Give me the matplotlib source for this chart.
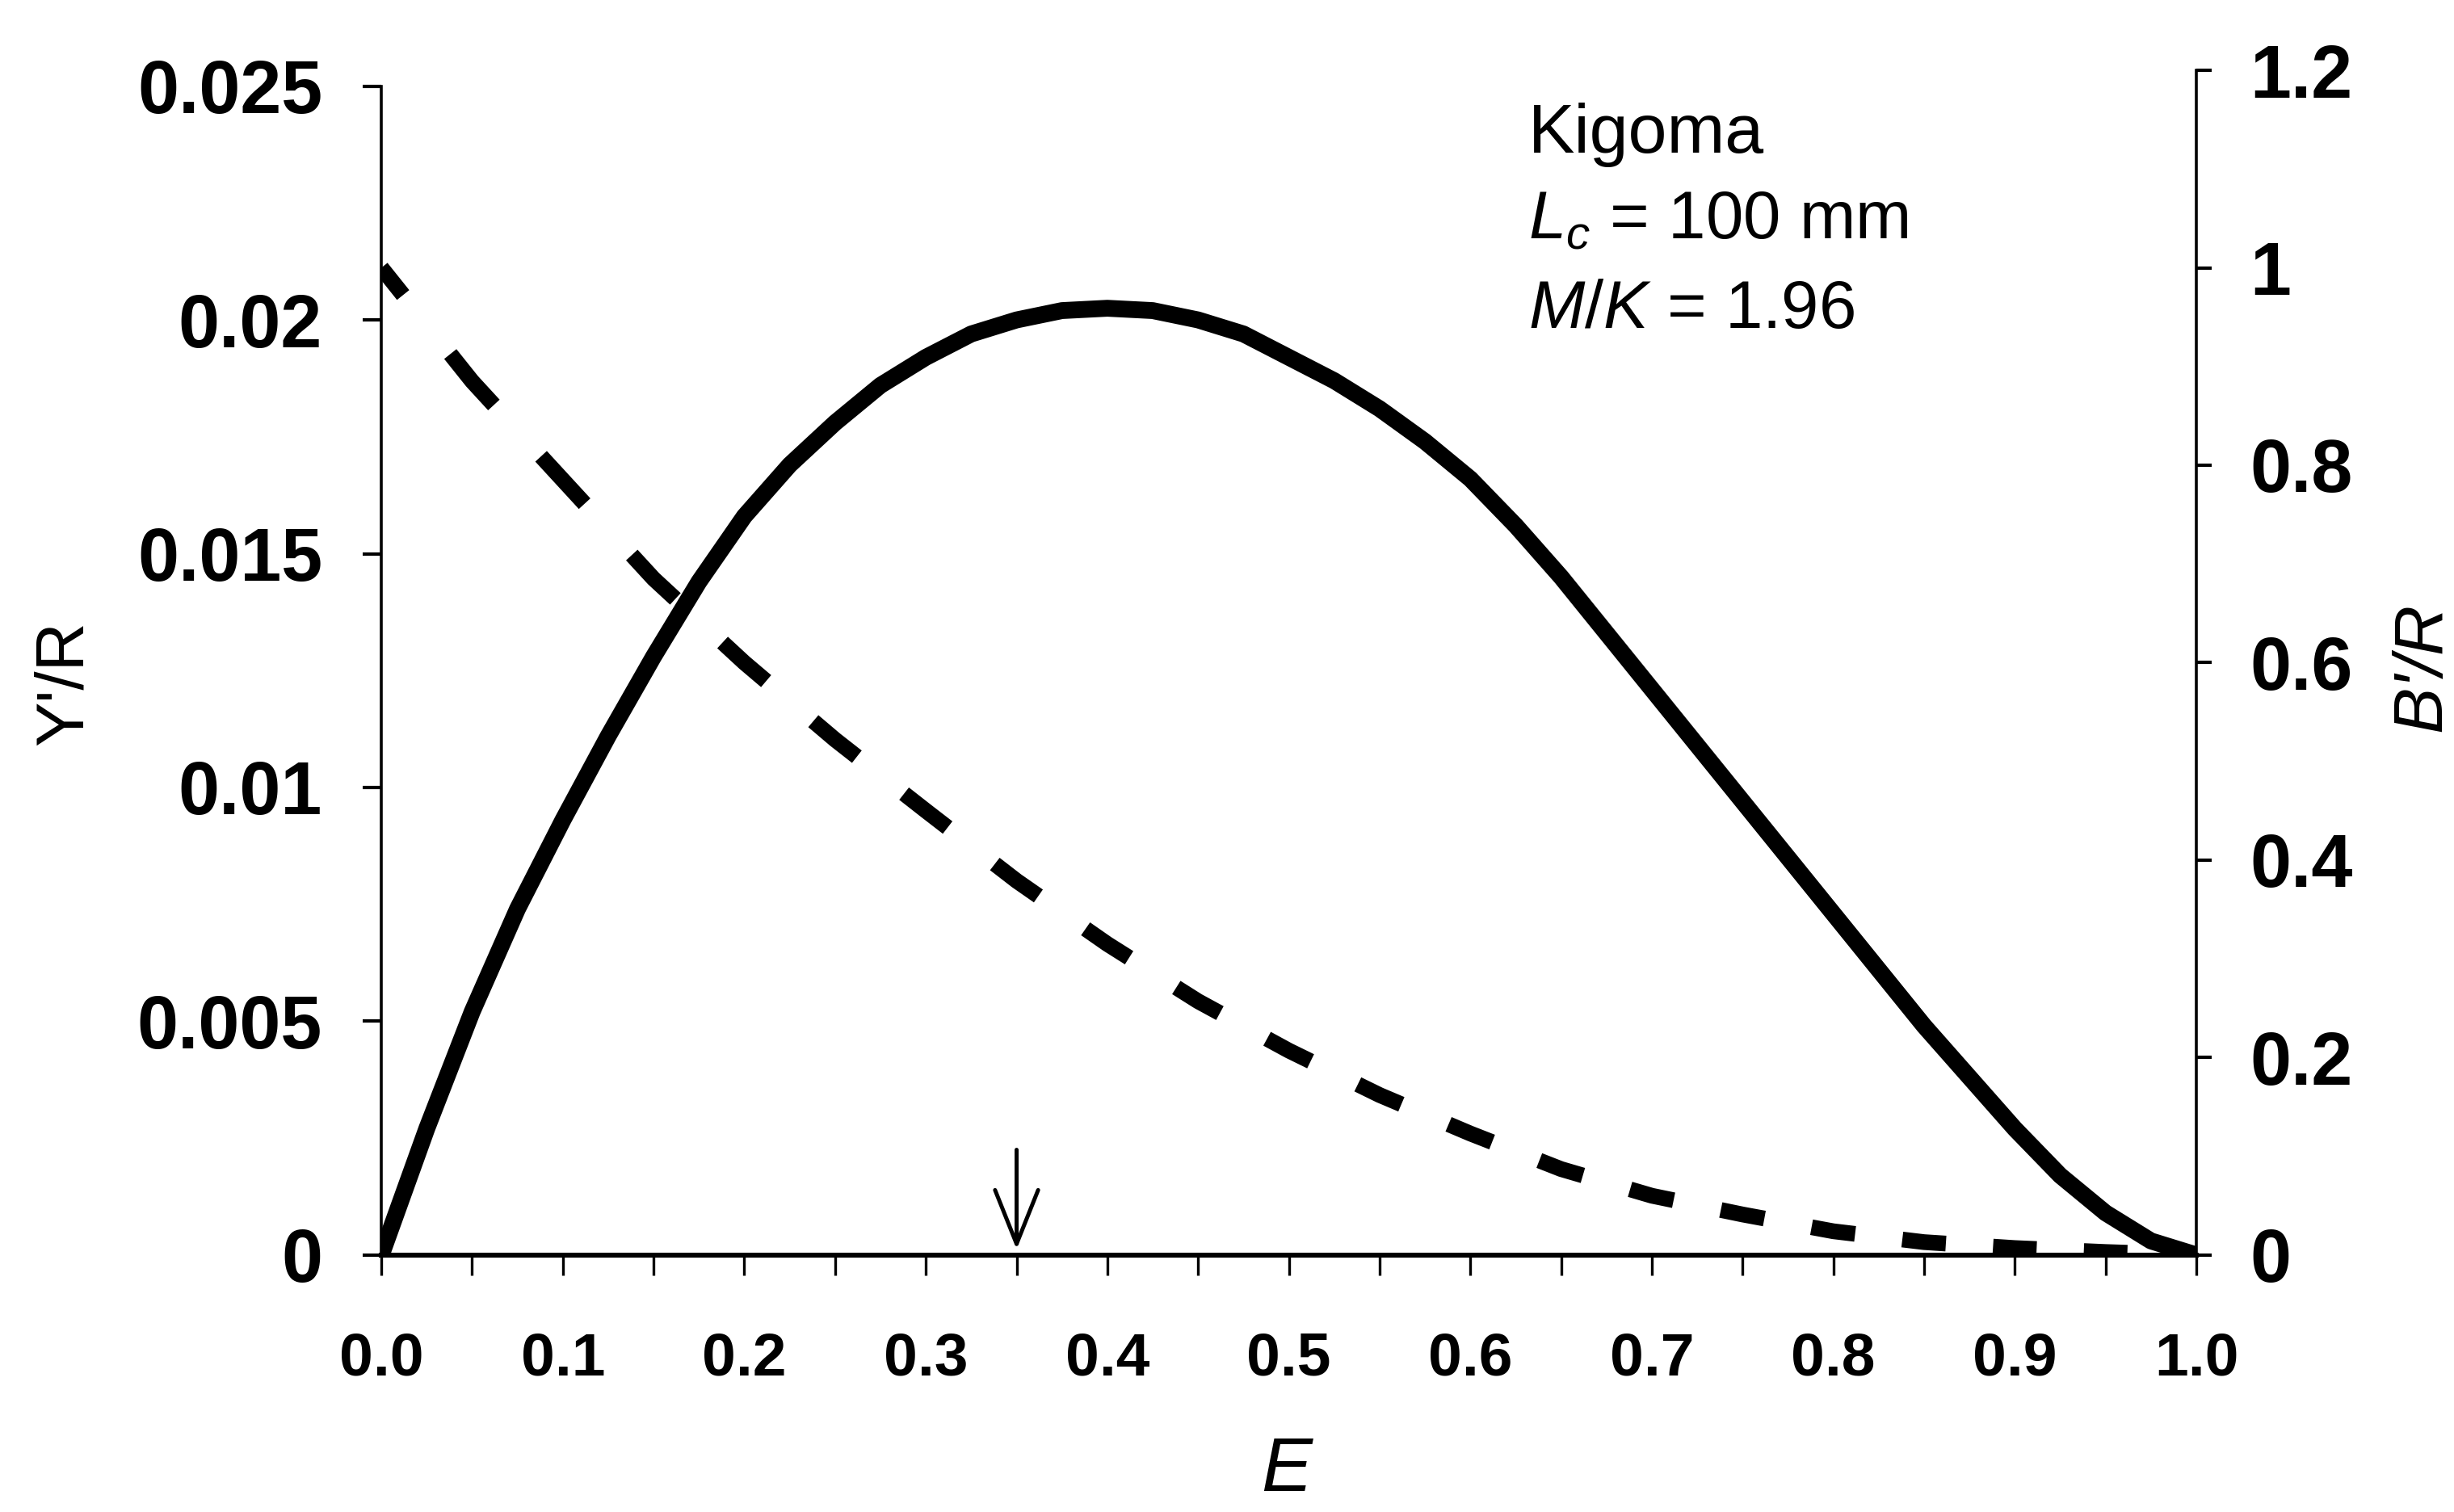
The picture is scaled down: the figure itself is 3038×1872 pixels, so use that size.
import numpy as np
import matplotlib
matplotlib.use('Agg')
import matplotlib.pyplot as plt
from matplotlib.ticker import MultipleLocator, FixedLocator

# Fonts: Arial-like family and matching mathtext
plt.rcParams['font.family'] = 'Liberation Sans'
plt.rcParams['mathtext.fontset'] = 'custom'
plt.rcParams['mathtext.rm'] = 'Liberation Sans'
plt.rcParams['mathtext.it'] = 'Liberation Sans:italic'
plt.rcParams['mathtext.bf'] = 'Liberation Sans:bold'

# Relative yield per recruit Y'/R against exploitation rate E (left axis, solid line)
E_yield = [0.0, 0.025, 0.05, 0.075, 0.1, 0.125, 0.15, 0.175, 0.2, 0.225,
           0.25, 0.275, 0.3, 0.325, 0.35, 0.375, 0.4, 0.425, 0.45, 0.475,
           0.5, 0.525, 0.55, 0.575, 0.6, 0.625, 0.65, 0.675, 0.7, 0.725,
           0.75, 0.775, 0.8, 0.825, 0.85, 0.875, 0.9, 0.925, 0.95, 0.975, 1.0]
yield_per_recruit = [0.0, 0.0027, 0.0052, 0.0074, 0.0093, 0.0111, 0.0128, 0.0144,
                     0.0158, 0.0169, 0.0178, 0.0186, 0.0192, 0.0197, 0.0200,
                     0.0202, 0.02025, 0.0202, 0.0200, 0.0197, 0.0192, 0.0187,
                     0.0181, 0.0174, 0.0166, 0.0156, 0.0145, 0.0133, 0.0121,
                     0.0109, 0.0097, 0.0085, 0.0073, 0.0061, 0.0049, 0.0038,
                     0.0027, 0.0017, 0.0009, 0.0003, 0.0]

# Relative biomass per recruit B'/R (right axis, dashed line)
E_biomass = [0.0, 0.05, 0.1, 0.15, 0.2, 0.25, 0.3, 0.35, 0.4, 0.45, 0.5,
             0.55, 0.6, 0.65, 0.7, 0.75, 0.8, 0.85, 0.9, 0.95, 1.0]
biomass_per_recruit = [1.0, 0.885, 0.785, 0.685, 0.600, 0.522, 0.450, 0.379,
                       0.315, 0.257, 0.207, 0.162, 0.123, 0.087, 0.060, 0.041,
                       0.024, 0.013, 0.007, 0.003, 0.0]

left_ticks = [0, 0.005, 0.01, 0.015, 0.02, 0.025]
left_labels = ['0', '0.005', '0.01', '0.015', '0.02', '0.025']
right_ticks = [0, 0.2, 0.4, 0.6, 0.8, 1.0, 1.2]
right_labels = ['0', '0.2', '0.4', '0.6', '0.8', '1', '1.2']
x_ticks = [0.0, 0.1, 0.2, 0.3, 0.4, 0.5, 0.6, 0.7, 0.8, 0.9, 1.0]
x_labels = ['%.1f' % v for v in x_ticks]

# Optimum exploitation marked with an arrow
E_arrow = 0.35


def short_dashes(x, y, frac):
    # one short dash centred on every data point, reaching a fraction
    # of the way toward the neighbouring points
    xs, ys = [], []
    n = len(x)
    for i in range(n):
        if i > 0:
            xa = x[i] - frac * (x[i] - x[i - 1])
            ya = y[i] - frac * (y[i] - y[i - 1])
        else:
            xa, ya = x[i], y[i]
        if i < n - 1:
            xb = x[i] + frac * (x[i + 1] - x[i])
            yb = y[i] + frac * (y[i + 1] - y[i])
        else:
            xb, yb = x[i], y[i]
        xs += [xa, x[i], xb, np.nan]
        ys += [ya, y[i], yb, np.nan]
    return xs, ys


fig = plt.figure(figsize=(15.19, 9.36), dpi=200)

left, bottom, width = 0.1554, 0.170, 0.7396
ax = fig.add_axes([left, bottom, width, 0.943 - bottom])
ax2 = fig.add_axes([left, bottom, width, 0.9535 - bottom], sharex=ax)
ax2.patch.set_visible(False)

# Solid line: Y'/R
ax.plot(E_yield, yield_per_recruit, color='black', lw=7.5, solid_capstyle='butt',
        solid_joinstyle='round', zorder=3)

# Dashed line: B'/R
dx, dy = short_dashes(E_biomass, biomass_per_recruit, 0.24)
ax2.plot(dx, dy, color='black', lw=7, solid_capstyle='butt', zorder=3)

# Arrow at E = 0.35
ax.annotate('', xy=(E_arrow, 0.00012), xytext=(E_arrow, 0.00225),
            arrowprops=dict(arrowstyle='->,head_length=0.8,head_width=0.32',
                            lw=1.8, color='black', mutation_scale=30,
                            shrinkA=0, shrinkB=0))

# Axis limits
ax.set_xlim(0, 1.0)
ax.set_ylim(0, 0.025)
ax2.set_ylim(0, 1.2)

# Spines
for s in ['top', 'right']:
    ax.spines[s].set_visible(False)
for s in ['top', 'left', 'bottom']:
    ax2.spines[s].set_visible(False)
ax.spines['left'].set_linewidth(1.3)
ax.spines['bottom'].set_linewidth(2.2)
ax2.spines['right'].set_linewidth(1.3)

# Ticks
ax.xaxis.set_major_locator(FixedLocator(x_ticks))
ax.xaxis.set_minor_locator(MultipleLocator(0.05))
ax.set_xticklabels(x_labels, fontsize=27, fontweight='bold')
ax.tick_params(axis='x', which='both', direction='out', length=9, width=1.2, pad=25)

ax.set_yticks(left_ticks)
ax.set_yticklabels(left_labels, fontsize=33, fontweight='bold')
ax.tick_params(axis='y', direction='out', length=8.3, width=1.5, pad=18)

ax2.yaxis.tick_right()
ax2.set_yticks(right_ticks)
ax2.set_yticklabels(right_labels, fontsize=33, fontweight='bold')
ax2.tick_params(axis='y', direction='out', length=7, width=1.5, pad=17)
ax2.tick_params(axis='x', which='both', bottom=False, labelbottom=False)

# Axis titles
fig.text(0.5243, 1 - 1821 / 1872, 'E', fontsize=34, style='italic',
         ha='center', va='center')
fig.text(80 / 3038, 1 - 846 / 1872, "Y'/R", fontsize=30, rotation=90,
         ha='center', va='center')
fig.text(2999 / 3038, 1 - 826 / 1872, "B'/R", fontsize=31, style='italic',
         rotation=90, ha='center', va='center')

# Annotation block
ax.text(0.632, 0.943, 'Kigoma', fontsize=31, transform=ax.transAxes, va='baseline')
ax.text(0.632, 0.870, r'$L_c$ = 100 mm', fontsize=30, transform=ax.transAxes, va='baseline')
ax.text(0.632, 0.7935, r'$M/K$ = 1.96', fontsize=30, transform=ax.transAxes, va='baseline')

fig.savefig('out.png', dpi=200)
